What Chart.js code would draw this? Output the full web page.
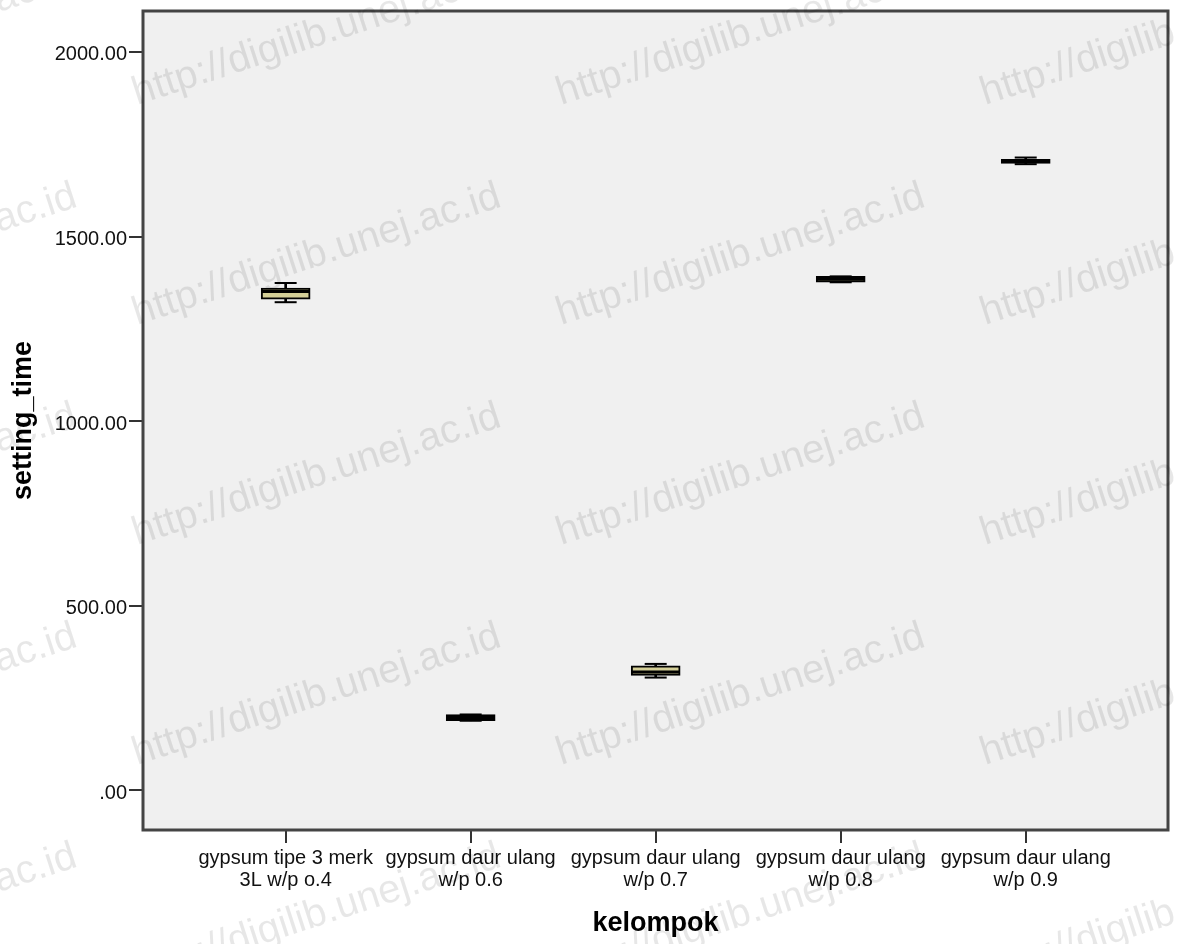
<!DOCTYPE html>
<html>
<head>
<meta charset="utf-8">
<title>setting_time per kelompok</title>
<script src="https://cdn.jsdelivr.net/npm/chart.js@4.4.1/dist/chart.umd.min.js"></script>
<style>
  html, body { margin: 0; padding: 0; background: #ffffff; }
  #wrap { width: 1177px; height: 944px; position: relative; }
</style>
</head>
<body>
<div id="wrap"><canvas id="chart" width="1177" height="944"></canvas></div>
<script>
// Groups on the x axis (two-line labels)
const groupLabels = [
  ['gypsum tipe 3 merk', '3L w/p o.4'],
  ['gypsum daur ulang', 'w/p 0.6'],
  ['gypsum daur ulang', 'w/p 0.7'],
  ['gypsum daur ulang', 'w/p 0.8'],
  ['gypsum daur ulang', 'w/p 0.9']
];

// Five-number summaries of setting_time per group
const whiskerLow  = [1322, 188, 305, 1376, 1696];
const quartile1   = [1330, 188, 311, 1376, 1698];
const medianVals  = [1351, 197, 320, 1384, 1705];
const quartile3   = [1360, 205, 337, 1392, 1709];
const whiskerHigh = [1374, 205, 342, 1392, 1714];

// Value axis ticks
const yTickValues = [0, 500, 1000, 1500, 2000];

const FONT = "'Liberation Sans', Arial, sans-serif";
const BOX_FILL = '#D3CE97';

const pts = (vals) => vals.map((v, i) => ({ x: i + 1, y: v }));
const ranges = (lo, hi) => lo.map((v, i) => ({ x: i + 1, y: [v, hi[i]] }));

// Grey plotting panel behind the boxes and its frame on top
const panelPlugin = {
  id: 'panel',
  beforeDatasetsDraw(chart) {
    const { ctx, chartArea: a } = chart;
    ctx.save();
    ctx.fillStyle = '#F0F0F0';
    ctx.fillRect(a.left, a.top, a.right - a.left, a.bottom - a.top);
    ctx.restore();
  },
  afterDatasetsDraw(chart) {
    const { ctx, chartArea: a } = chart;
    ctx.save();
    ctx.strokeStyle = '#444444';
    ctx.lineWidth = 3;
    ctx.strokeRect(a.left, a.top, a.right - a.left, a.bottom - a.top);
    ctx.restore();
  }
};

// Repository stamp repeated diagonally over the whole figure
const stampPlugin = {
  id: 'stamp',
  afterDraw(chart) {
    const { ctx } = chart;
    ctx.save();
    ctx.font = '40px ' + FONT;
    ctx.fillStyle = 'rgba(0,0,0,0.095)';
    ctx.textBaseline = 'alphabetic';
    ctx.textAlign = 'left';
    const cols = [-287, 137, 561, 985];
    const rows = [105, 325, 545, 765, 985];
    for (const cx of cols) {
      for (const ry of rows) {
        ctx.save();
        ctx.translate(cx, ry);
        ctx.rotate(-18 * Math.PI / 180);
        ctx.fillText('http://digilib.unej.ac.id', 0, 0);
        ctx.restore();
      }
    }
    ctx.restore();
  }
};

new Chart(document.getElementById('chart'), {
  type: 'bar',
  data: {
    datasets: [
      {
        // whisker stems
        type: 'bar',
        data: ranges(whiskerLow, whiskerHigh),
        backgroundColor: '#000000',
        borderWidth: 0,
        barThickness: 2,
        grouped: false,
        order: 4
      },
      {
        // interquartile boxes
        type: 'bar',
        data: ranges(quartile1, quartile3),
        backgroundColor: BOX_FILL,
        borderColor: '#000000',
        borderWidth: 2,
        borderSkipped: false,
        barThickness: 49,
        grouped: false,
        order: 3
      },
      {
        // medians
        type: 'line',
        data: pts(medianVals),
        showLine: false,
        pointStyle: 'line',
        pointRadius: 24,
        pointHoverRadius: 24,
        pointBorderWidth: 3,
        borderWidth: 3,
        pointBorderColor: '#000000',
        borderColor: '#000000',
        order: 2
      },
      {
        // lower whisker caps
        type: 'line',
        data: pts(whiskerLow),
        showLine: false,
        pointStyle: 'line',
        pointRadius: 11,
        pointHoverRadius: 11,
        pointBorderWidth: 2,
        borderWidth: 2,
        pointBorderColor: '#000000',
        borderColor: '#000000',
        order: 1
      },
      {
        // upper whisker caps
        type: 'line',
        data: pts(whiskerHigh),
        showLine: false,
        pointStyle: 'line',
        pointRadius: 11,
        pointHoverRadius: 11,
        pointBorderWidth: 2,
        borderWidth: 2,
        pointBorderColor: '#000000',
        borderColor: '#000000',
        order: 1
      }
    ]
  },
  options: {
    responsive: false,
    animation: false,
    events: [],
    layout: { autoPadding: false, padding: { top: 11, right: 9, left: 0, bottom: 0 } },
    plugins: {
      legend: { display: false },
      tooltip: { enabled: false }
    },
    scales: {
      x: {
        type: 'linear',
        offset: false,
        min: 0.229,
        max: 5.769,
        afterBuildTicks: (s) => { s.ticks = groupLabels.map((_, i) => ({ value: i + 1 })); },
        afterFit: (s) => { s.height = 114; s.paddingLeft = 0; s.paddingRight = 0; },
        border: { display: false },
        grid: {
          offset: false,
          drawOnChartArea: false,
          drawTicks: true,
          tickLength: 13,
          lineWidth: 2,
          color: '#333333'
        },
        ticks: {
          autoSkip: false,
          maxRotation: 0,
          minRotation: 0,
          padding: 4,
          color: '#111111',
          font: { family: FONT, size: 20, lineHeight: 1.1 },
          callback: (v) => groupLabels[Math.round(v) - 1]
        },
        title: {
          display: true,
          text: 'kelompok',
          color: '#000000',
          font: { family: FONT, size: 27, weight: 'bold', lineHeight: 1.2 },
          padding: { top: 0, bottom: 4 }
        }
      },
      y: {
        type: 'linear',
        min: -108,
        max: 2111,
        afterBuildTicks: (s) => { s.ticks = yTickValues.map((v) => ({ value: v })); },
        afterFit: (s) => { s.width = 143; s.paddingTop = 0; s.paddingBottom = 0; },
        border: { display: false },
        grid: {
          drawOnChartArea: false,
          drawTicks: true,
          tickLength: 14,
          lineWidth: 2,
          color: '#333333'
        },
        ticks: {
          padding: 2,
          labelOffset: 3,
          color: '#111111',
          font: { family: FONT, size: 20 },
          callback: (v) => (v === 0 ? '.00' : v.toFixed(2))
        },
        title: {
          display: true,
          text: 'setting_time',
          color: '#000000',
          font: { family: FONT, size: 27, weight: 'bold', lineHeight: 1.2 },
          padding: { top: 7, bottom: 0 }
        }
      }
    }
  },
  plugins: [panelPlugin, stampPlugin]
});
</script>
</body>
</html>
